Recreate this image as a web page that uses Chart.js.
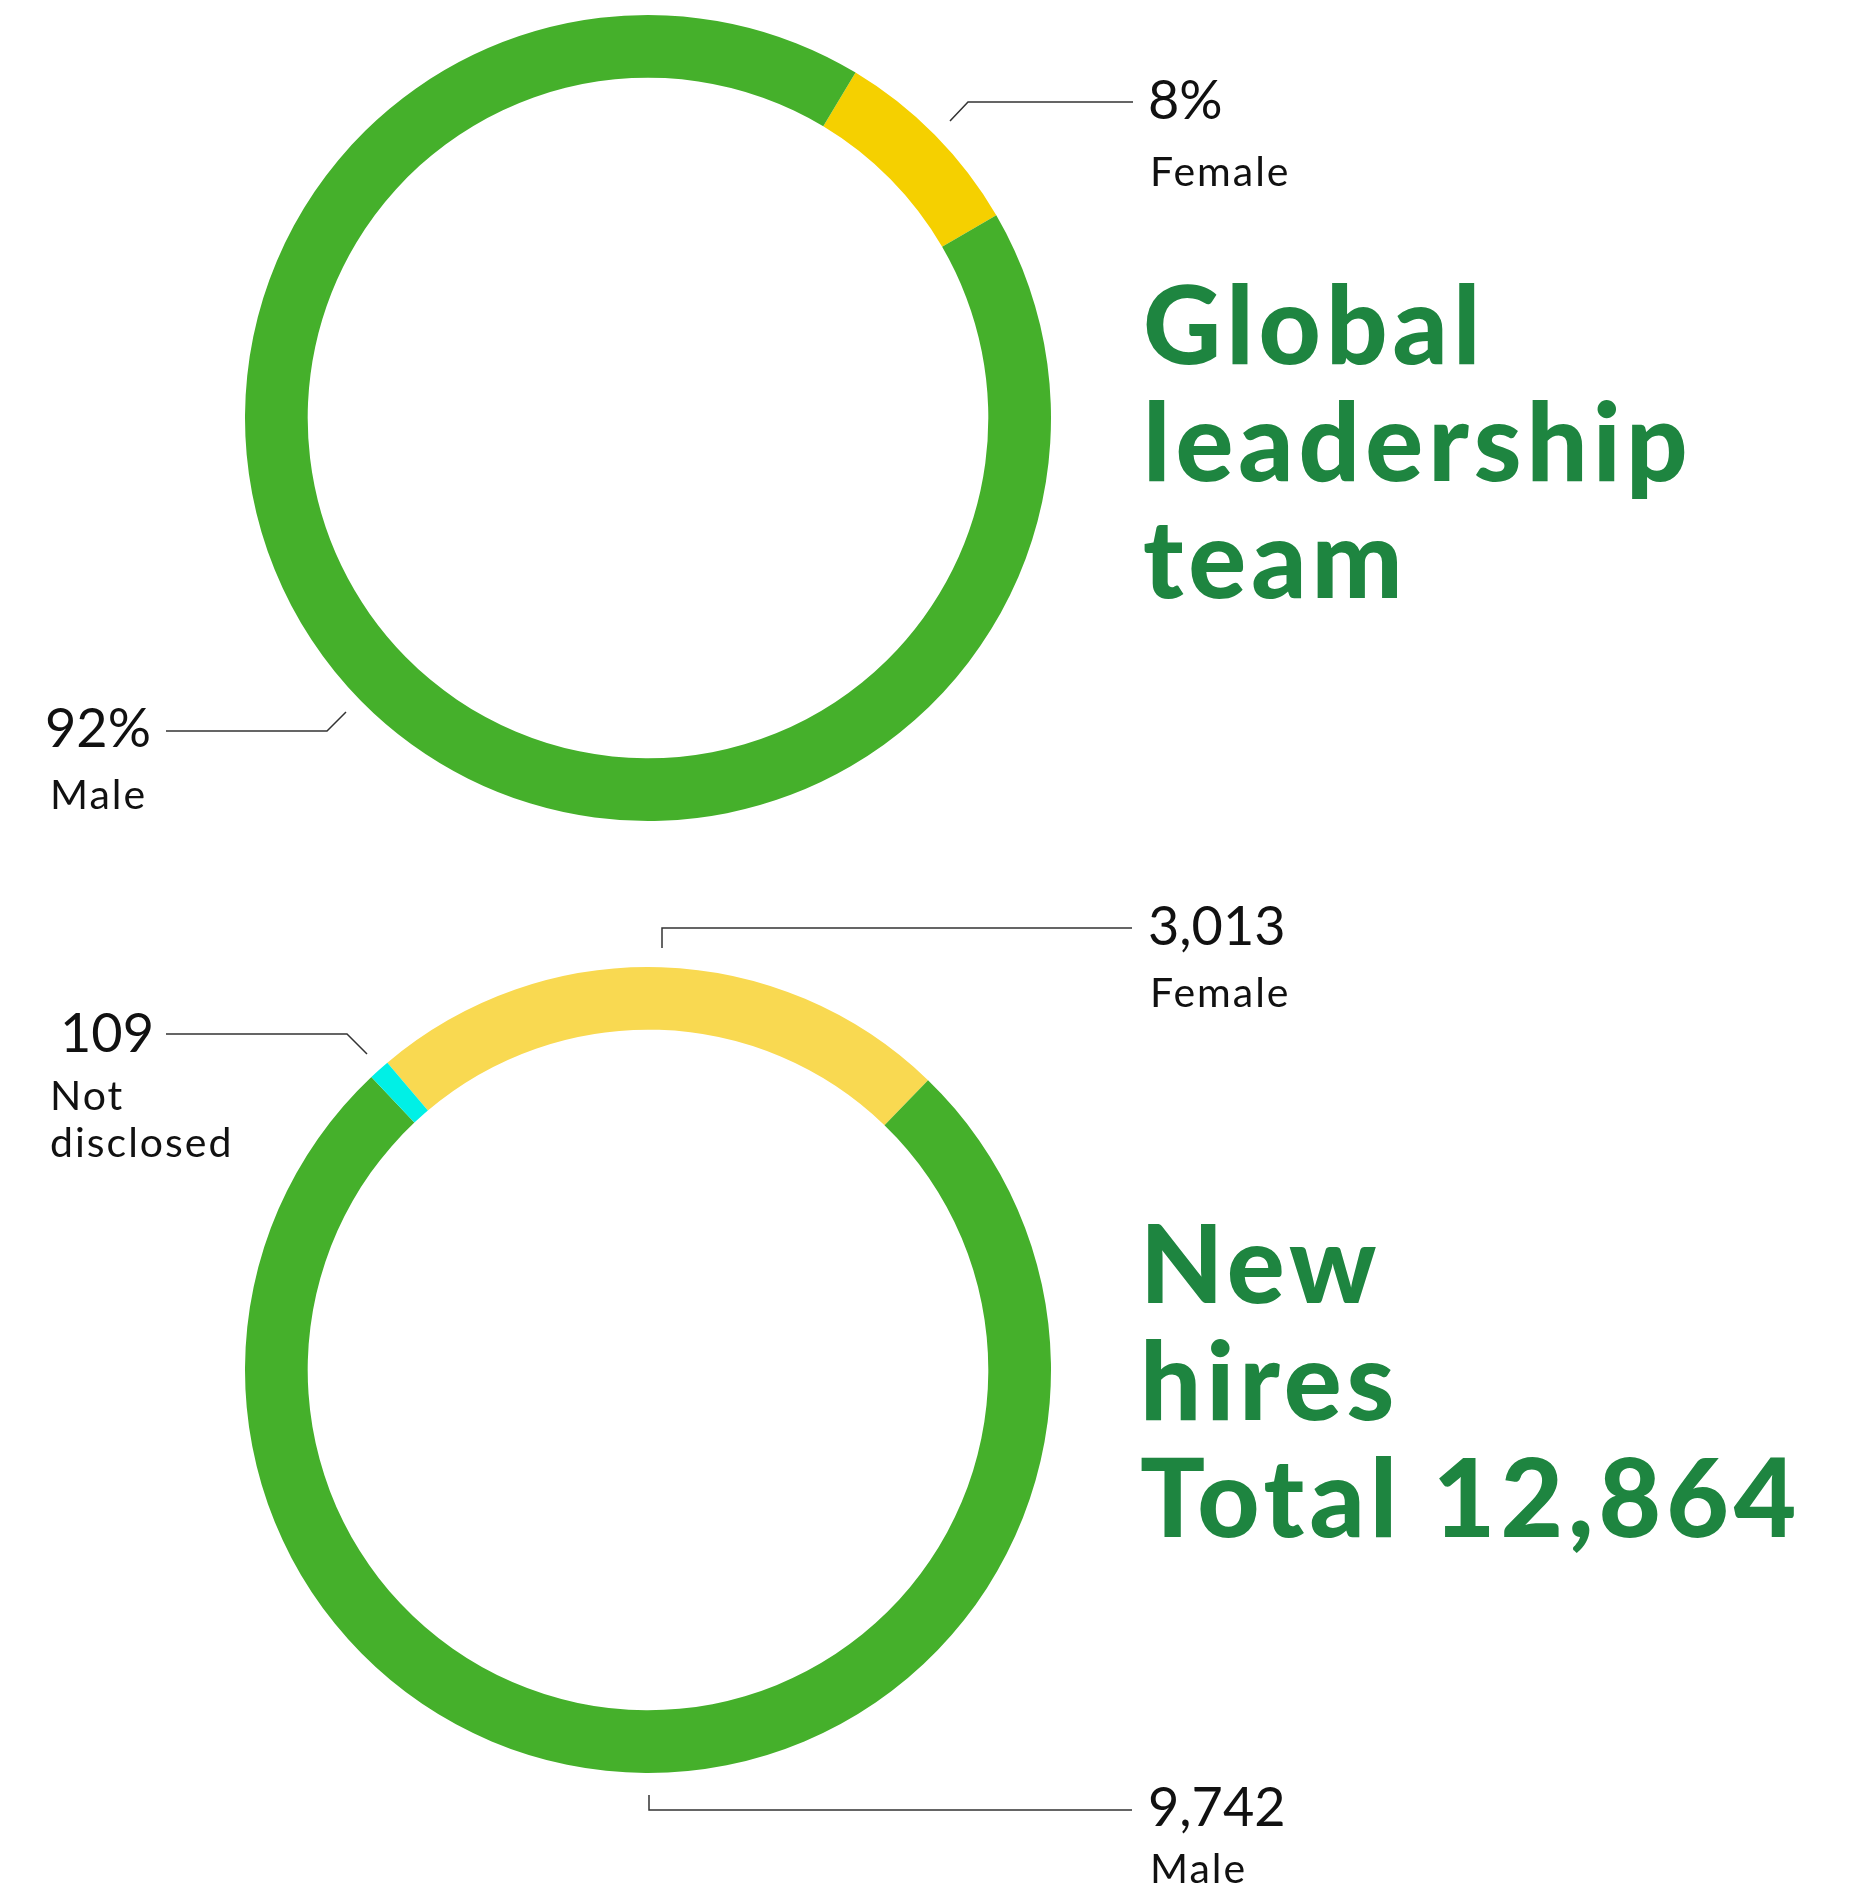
<!DOCTYPE html>
<html>
<head>
<meta charset="utf-8">
<script src="https://cdn.jsdelivr.net/npm/chart.js@4.4.0/dist/chart.umd.min.js"></script>
<style>
  html, body { margin: 0; padding: 0; background: #fff; }
  body { width: 1850px; height: 1888px; position: relative; overflow: hidden; font-family: "Lato", "Noto Sans", sans-serif; }
  canvas { position: absolute; }
  .t { position: absolute; white-space: nowrap; color: #111; line-height: 1; }
  .num { font-size: 54px; font-weight: 400; }
  .lab { font-size: 41px; font-weight: 400; letter-spacing: 2px; }
  .title { position: absolute; color: #1E8540; font-weight: 900; font-size: 108px; line-height: 117px; white-space: nowrap; letter-spacing: 5px; }
  svg { position: absolute; left: 0; top: 0; }
</style>
</head>
<body>
<canvas id="c1" width="810" height="810" style="left:243px;top:13px"></canvas>
<canvas id="c2" width="810" height="810" style="left:243px;top:965px"></canvas>

<svg width="1850" height="1888" viewBox="0 0 1850 1888">
  <g fill="none" stroke="#333" stroke-width="1.5">
    <polyline points="950,121 968,102 1133,102"/>
    <polyline points="166,731 327,731 346,712"/>
    <polyline points="166,1034 347,1034 367,1054"/>
    <polyline points="662,948 662,928 1132,928"/>
    <polyline points="649,1795 649,1810 1132,1810"/>
  </g>
</svg>

<div id="lbl"></div>

<script>
// ---- Data ----
const topCategories = ['Female', 'Male'];
const topValues = [8, 92];            // percent
const bottomCategories = ['Female', 'Male', 'Not disclosed'];
const bottomValues = [3013, 9742, 109];

// ---- Styles ----
const topColors = ['#F5D000', '#45B02B'];
const bottomColors = ['#F9D951', '#45B02B', '#00F0E6'];

function donut(id, labels, values, colors, rotation) {
  return new Chart(document.getElementById(id), {
    type: 'doughnut',
    data: { labels: labels, datasets: [{ data: values, backgroundColor: colors, borderWidth: 0, hoverOffset: 0 }] },
    options: {
      responsive: false, animation: false, events: [],
      radius: 403, cutout: 342, rotation: rotation,
      layout: { padding: 0 },
      plugins: { legend: { display: false }, tooltip: { enabled: false } }
    }
  });
}
donut('c1', topCategories, topValues, topColors, 31);
donut('c2', bottomCategories, bottomValues, bottomColors, -40.3);

const fmt = n => n.toLocaleString('en-US');
const total = bottomValues.reduce((a, b) => a + b, 0);

const texts = [
  ['num', topValues[0] + '%', 1148, 72],
  ['lab', topCategories[0], 1150, 150],
  ['num', topValues[1] + '%', 45, 700],
  ['lab', topCategories[1], 50, 773],
  ['num', fmt(bottomValues[2]), 60, 1005],
  ['lab', 'Not', 50, 1074],
  ['lab', 'disclosed', 50, 1121],
  ['num', fmt(bottomValues[0]), 1148, 898],
  ['lab', bottomCategories[0], 1150, 971],
  ['num', fmt(bottomValues[1]), 1148, 1779],
  ['lab', bottomCategories[1], 1150, 1847]
];
const host = document.getElementById('lbl');
texts.forEach(([cls, s, x, y]) => {
  const d = document.createElement('div');
  d.className = 't ' + cls; d.textContent = s;
  d.style.left = x + 'px'; d.style.top = y + 'px';
  host.appendChild(d);
});

const titles = [
  [['Global', 'leadership', 'team'], 1143, 264],
  [['New', 'hires', 'Total ' + fmt(total)], 1140, 1203]
];
titles.forEach(([lines, x, y]) => {
  const d = document.createElement('div');
  d.className = 'title';
  d.innerHTML = lines.join('<br>');
  d.style.left = x + 'px'; d.style.top = y + 'px';
  host.appendChild(d);
});
</script>
</body>
</html>
